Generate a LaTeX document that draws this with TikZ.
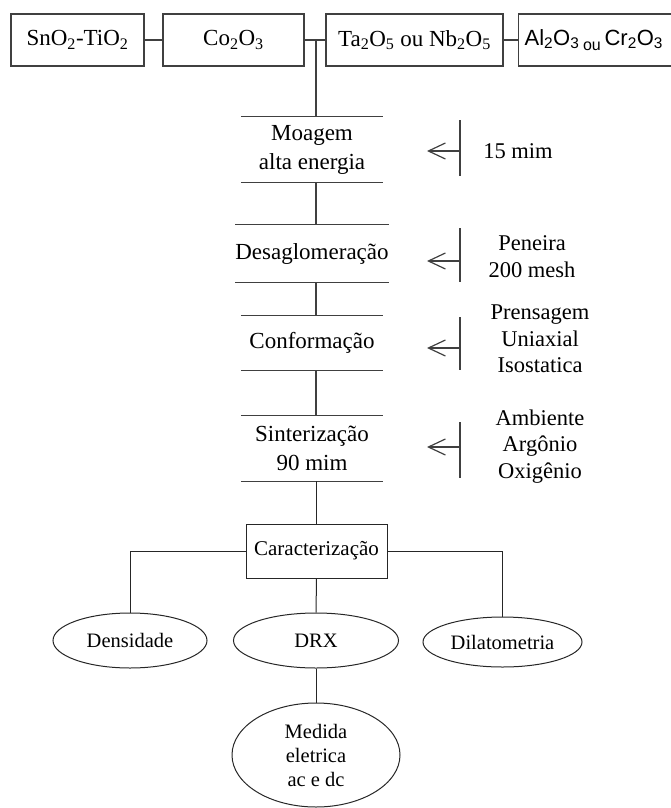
\documentclass[tikz,border=0pt]{standalone}
\usepackage{fontspec}
\setmainfont{Liberation Serif}
\newfontfamily\arialf{Liberation Sans}
\usetikzlibrary{arrows.meta,shapes.geometric}
\begin{document}
\begin{tikzpicture}[x=1pt,y=-1pt,
  ln/.style={draw=black!75, line width=1.2pt},
  lnb/.style={draw=black!85, line width=1pt},
  topbox/.style={draw=black!75, line width=1.2pt, minimum height=52pt, inner sep=0pt, font=\fontsize{23}{27}\selectfont},
  stage/.style={minimum width=142pt, inner sep=0pt, align=center, font=\fontsize{23}{29}\selectfont},
  side/.style={align=center, inner sep=0pt, font=\fontsize{22.5}{26.5}\selectfont},
  elli/.style={ellipse, draw=black!85, line width=1pt, inner sep=0pt, align=center, font=\fontsize{20.5}{24}\selectfont},
  barrow/.style={draw=black!75, line width=1.2pt, -{Straight Barb[length=17pt,width=16pt,line width=1.2pt]}}
]
\useasboundingbox (0,0) rectangle (671,808);

% top boxes
\node[topbox, minimum width=133pt] (b1) at (77.5,40) {SnO\textsubscript{2}-TiO\textsubscript{2}};
\node[topbox, minimum width=141pt] (b2) at (233.5,40) {Co\textsubscript{2}O\textsubscript{3}};
\node[topbox, minimum width=177pt] (b3) at (414.5,40) {Ta\textsubscript{2}O\textsubscript{5} ou Nb\textsubscript{2}O\textsubscript{5}};
\node[topbox, anchor=west, inner xsep=0pt, text width=170pt, align=left, font=\arialf\fontsize{22}{26}\selectfont] (b4) at (518,40)
  {\hspace*{6pt}Al\textsubscript{2}O\textsubscript{3}\,\raisebox{-0.45ex}{\fontsize{16}{16}\selectfont ou}\,Cr\textsubscript{2}O\textsubscript{3}};
\draw[ln] (b1) -- (b2);
\draw[ln] (b2) -- (b3);
\draw[ln] (b3) -- (b4);
\coordinate (sp) at (316,40);

% stages
\node[stage, minimum height=65pt] (mo) at (312,149.5) {Moagem\\alta energia};
\node[stage, minimum height=57pt] (de) at (312,253.5) {Desaglomeração};
\node[stage, minimum height=54pt] (co) at (312,343) {Conformação};
\node[stage, minimum height=65pt] (si) at (312,448.5) {Sinterização\\90 mim};
\foreach \n in {mo,de,co,si}{
  \draw[ln] (\n.north west) -- (\n.north east);
  \draw[ln] (\n.south west) -- (\n.south east);
}
\draw[ln] (sp) -- (sp |- mo.north);
\draw[ln] (sp |- mo.south) -- (sp |- de.north);
\draw[ln] (sp |- de.south) -- (sp |- co.north);
\draw[ln] (sp |- co.south) -- (sp |- si.north);

% side conditions
\node[side] (s1) at (518,151) {15 mim};
\node[side] (s2) at (532,256.5) {Peneira\\200 mesh};
\node[side] (s3) at (540,339) {Prensagem\\Uniaxial\\Isostatica};
\node[side] (s4) at (540,446.5) {Ambiente\\Argônio\\Oxigênio};

\coordinate (t1) at (460,120); \coordinate (u1) at (460,176);
\coordinate (a1) at (460,151); \coordinate (p1) at (427,151);
\coordinate (t2) at (460,228); \coordinate (u2) at (460,282);
\coordinate (a2) at (460,261); \coordinate (p2) at (427,261);
\coordinate (t3) at (460,317); \coordinate (u3) at (460,370);
\coordinate (a3) at (460,348); \coordinate (p3) at (427,348);
\coordinate (t4) at (460,422); \coordinate (u4) at (460,478);
\coordinate (a4) at (460,447); \coordinate (p4) at (427,447);
\foreach \i in {1,2,3,4}{
  \draw[ln] (t\i) -- (u\i);
  \draw[barrow] (a\i) -- (p\i);
}

% characterization
\node[draw=black!85, line width=1pt, minimum width=141pt, minimum height=54pt, inner sep=0pt, font=\fontsize{21}{25}\selectfont] (car) at (316.5,551) {Caracterização};
\draw[lnb] (sp |- si.south) -- (sp |- car.north);

\node[elli, minimum width=154pt, minimum height=55pt] (dens) at (130,640.5) {Densidade};
\node[elli, minimum width=165pt, minimum height=55pt] (drx) at (316,640.5) {DRX};
\node[elli, minimum width=159pt, minimum height=50pt] (dila) at (502.5,642) {Dilatometria};
\node[elli, minimum width=168pt, minimum height=104pt] (med) at (316,755) {Medida\\eletrica\\ac e dc};

\draw[lnb] (car.west) -| (dens.north);
\draw[lnb] (car.east) -| (dila.north);
\draw[lnb] (car.south) -- (drx.north);
\draw[lnb] (drx.south) -- (med.north);
\end{tikzpicture}
\end{document}
